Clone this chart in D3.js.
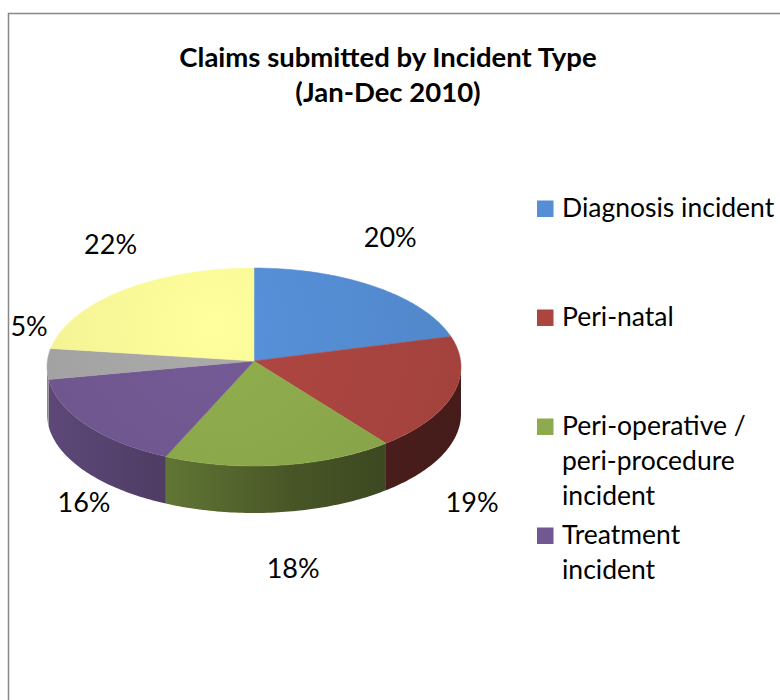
<!DOCTYPE html>
<html>
<head>
<meta charset="utf-8">
<script src="https://cdn.jsdelivr.net/npm/d3@7"></script>
<style>
  html, body { margin: 0; padding: 0; background: #fff; }
  svg { display: block; }
</style>
</head>
<body>
<svg id="chart" width="780" height="700"></svg>
<script>
// ---------------- data ----------------
const titleLines = ["Claims submitted by Incident Type", "(Jan-Dec 2010)"];
const categories = [
  "Diagnosis incident",
  "Peri-natal",
  "Peri-operative / peri-procedure incident",
  "Treatment incident",
  "Other incident",
  "Unspecified incident"
];
const values = [20, 19, 18, 16, 5, 22];
const legendLines = [
  ["Diagnosis incident"],
  ["Peri-natal"],
  ["Peri-operative /", "peri-procedure", "incident"],
  ["Treatment", "incident"]
];
const colors = ["#558ED5", "#AC4540", "#8DAA4C", "#725892", "#A6A6A6", "#FAFA98"];

// ---------------- layout ----------------
const W = 780, H = 700;
const cx = 254, cy = 367, rx = 207, ry = 99, depth = 47, apexOff = -6;
const labelEllipse = { cy: 386, rx: 225, ry: 184 };
const labelNudge = [[4, 0], [2, 65], [11, 0], [12, 8], [0, -54], [0, 0]];
const font = "Lato, 'Liberation Sans', sans-serif";

const svg = d3.select("#chart");

// border
svg.append("rect")
  .attr("x", 8.5).attr("y", 13.5).attr("width", 820).attr("height", 760)
  .attr("fill", "#fff").attr("stroke", "#878787").attr("stroke-width", 1.5);

// title
svg.append("g").selectAll("text").data(titleLines).join("text")
  .attr("x", 388).attr("y", (d, i) => 67 + i * 35)
  .attr("text-anchor", "middle")
  .attr("font-family", font).attr("font-weight", "bold").attr("font-size", 27.5)
  .attr("fill", "#000")
  .text(d => d);

// pie angles
const pie = d3.pie().sort(null).value(d => d);
const arcs = pie(values);
const color = d3.scaleOrdinal().domain(categories).range(colors);

const pt = (a, dz = 0) => [cx + rx * Math.sin(a), cy - ry * Math.cos(a) + dz];
const line = d3.line();
function arcPoints(a0, a1, dz) {
  const n = Math.max(2, Math.ceil(Math.abs(a1 - a0) / (Math.PI / 180)));
  return d3.range(n + 1).map(i => pt(a0 + (a1 - a0) * i / n, dz));
}

const defs = svg.append("defs");
function shade(c, k) {
  const r = d3.rgb(c);
  return d3.rgb(r.r * k, r.g * k, r.b * k).formatHex();
}
const sideStops = [[0, 0.82], [0.3, 0.68], [0.6, 0.5], [0.85, 0.42], [1, 0.40]];
arcs.forEach((d, i) => {
  const g = defs.append("linearGradient")
    .attr("id", "side" + i).attr("gradientUnits", "userSpaceOnUse")
    .attr("x1", cx - rx).attr("x2", cx + rx).attr("y1", 0).attr("y2", 0);
  sideStops.forEach(s => g.append("stop").attr("offset", s[0]).attr("stop-color", shade(colors[i], s[1])));
  const t = defs.append("radialGradient")
    .attr("id", "top" + i).attr("gradientUnits", "userSpaceOnUse")
    .attr("cx", cx - 40).attr("cy", cy - 40).attr("r", rx * 1.2);
  t.append("stop").attr("offset", 0).attr("stop-color", shade(colors[i], 1.03));
  t.append("stop").attr("offset", 1).attr("stop-color", shade(colors[i], 0.95));
});

// sides (front half only: angles between PI/2 and 3PI/2)
const gSide = svg.append("g");
arcs.forEach((d, i) => {
  const s0 = Math.max(d.startAngle, Math.PI / 2);
  const s1 = Math.min(d.endAngle, 3 * Math.PI / 2);
  if (s1 <= s0) return;
  const top = arcPoints(s0, s1, 0);
  const bot = arcPoints(s1, s0, depth);
  gSide.append("path")
    .attr("d", line(top.concat(bot)) + "Z")
    .attr("fill", `url(#side${i})`);
});

// top faces
const gTop = svg.append("g");
arcs.forEach((d, i) => {
  const pts = [[cx, cy + apexOff]].concat(arcPoints(d.startAngle, d.endAngle, 0));
  gTop.append("path")
    .attr("d", line(pts) + "Z")
    .attr("fill", `url(#top${i})`)
    .attr("stroke", shade(colors[i], 1.0)).attr("stroke-width", 0.5);
});

// data labels
const total = d3.sum(values);
svg.append("g").selectAll("text").data(arcs).join("text")
  .attr("x", (d, i) => cx + labelEllipse.rx * Math.sin((d.startAngle + d.endAngle) / 2) + labelNudge[i][0])
  .attr("y", (d, i) => labelEllipse.cy - labelEllipse.ry * Math.cos((d.startAngle + d.endAngle) / 2) + labelNudge[i][1])
  .attr("dy", "0.36em")
  .attr("text-anchor", "middle")
  .attr("font-family", font).attr("font-size", 27).attr("fill", "#000")
  .text(d => Math.round(d.value / total * 100) + "%");

// legend
const legend = svg.append("g");
const legendY = d3.scaleLinear().domain([0, 1]).range([217, 326]);
legendLines.forEach((lines, i) => {
  const y = legendY(i);
  legend.append("rect")
    .attr("x", 537).attr("y", y - 16.5).attr("width", 16.5).attr("height", 16.5)
    .attr("fill", color(categories[i]));
  legend.append("g").selectAll("text").data(lines).join("text")
    .attr("x", 562).attr("y", (l, j) => y + j * 35)
    .attr("font-family", font).attr("font-size", 26.5).attr("fill", "#000")
    .text(l => l);
});
</script>
</body>
</html>
